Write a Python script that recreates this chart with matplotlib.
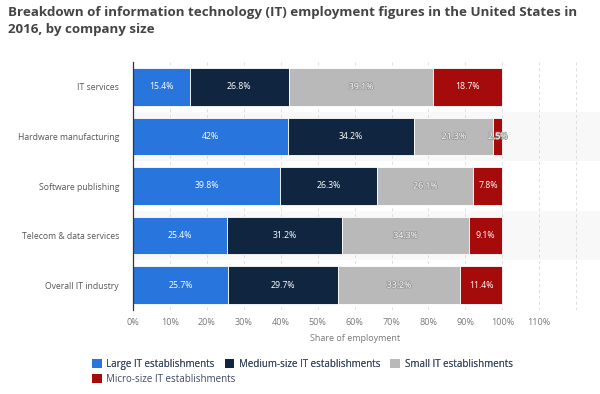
import matplotlib
matplotlib.use("Agg")
import matplotlib.pyplot as plt
from matplotlib.patches import Patch
import matplotlib.patheffects as pe

categories = ["IT services", "Hardware manufacturing", "Software publishing",
              "Telecom & data services", "Overall IT industry"]
large = [15.4, 42, 39.8, 25.4, 25.7]
medium = [26.8, 34.2, 26.3, 31.2, 29.7]
small = [39.1, 21.3, 26.1, 34.3, 33.2]
micro = [18.7, 2.5, 7.8, 9.1, 11.4]
series_names = ["Large IT establishments", "Medium-size IT establishments",
                "Small IT establishments", "Micro-size IT establishments"]
colors = ["#2876dd", "#10253f", "#b9b9b9", "#a50b0b"]
xticks = [0, 10, 20, 30, 40, 50, 60, 70, 80, 90, 100, 110]

plt.rcParams['font.family'] = ['Open Sans', 'DejaVu Sans']

fig = plt.figure(figsize=(6, 3.94), dpi=100)
ax = fig.add_axes([133/600, 1-310/394, 445/600, 248/394])

n = len(categories)
ys = list(range(n))
ax.set_ylim(n - 0.5, -0.5)
ax.set_xlim(0, 120.5)

# alternating row bands
for i in ys:
    if i % 2 == 1:
        ax.axhspan(i - 0.5, i + 0.5, xmin=0, xmax=1.05, color="#f8f8f8", zorder=0, lw=0,
                   clip_on=False)

for gx in xticks + [120]:
    ax.axvline(gx, color="#dddddd", lw=0.7, ls=(0, (3, 3)), zorder=0.5)

data = [large, medium, small, micro]
left = [0.0] * n
for s, vals in enumerate(data):
    ax.barh(ys, vals, left=left, height=0.76, color=colors[s],
            edgecolor="white", linewidth=0.6, zorder=2)
    for i, v in enumerate(vals):
        lbl = f"{v:g}%"
        t = ax.text(left[i] + v / 2, ys[i], lbl, ha="center", va="center",
                    color="white", fontsize=6.3, zorder=3)
        if s == 2 or v < 4:
            t.set_path_effects([pe.withStroke(linewidth=1.2, foreground="#999999")])
    left = [l + v for l, v in zip(left, vals)]

ax.set_yticks(ys)
ax.set_yticklabels(categories, fontsize=6.2, color="#555555")
ax.set_xticks(xticks)
ax.set_xticklabels([f"{x}%" for x in xticks], fontsize=6.5, color="#777777")
ax.tick_params(axis="both", length=0, pad=6)
ax.tick_params(axis="y", pad=10)
for sp in ["top", "right", "bottom"]:
    ax.spines[sp].set_visible(False)
ax.spines["left"].set_color("#333333")
ax.spines["left"].set_linewidth(0.9)
ax.set_xlabel("Share of employment", fontsize=6.5, color="#777777", labelpad=5)

fig.text(8/600, 1-6/394,
         "Breakdown of information technology (IT) employment figures in the United States in\n2016, by company size",
         ha="left", va="top", fontsize=9.6, fontweight="bold", color="#444444", linespacing=1.4)

def add_legend(idx, y_px):
    handles = [Patch(facecolor=colors[k], edgecolor="none") for k in idx]
    labels = [series_names[k] for k in idx]
    leg = fig.legend(handles, labels, loc="upper left", bbox_to_anchor=(88/600, 1-y_px/394),
                     ncol=len(idx), frameon=False, fontsize=7, handlelength=1.0,
                     handleheight=1.0, handletextpad=0.5, columnspacing=1.0,
                     borderaxespad=0)
    for t in leg.get_texts():
        t.set_color("#3b4a61")
    return leg

leg1 = add_legend([0, 1, 2], 355)
fig.add_artist(leg1)
add_legend([3], 370)

fig.savefig("out.png", dpi=100)
